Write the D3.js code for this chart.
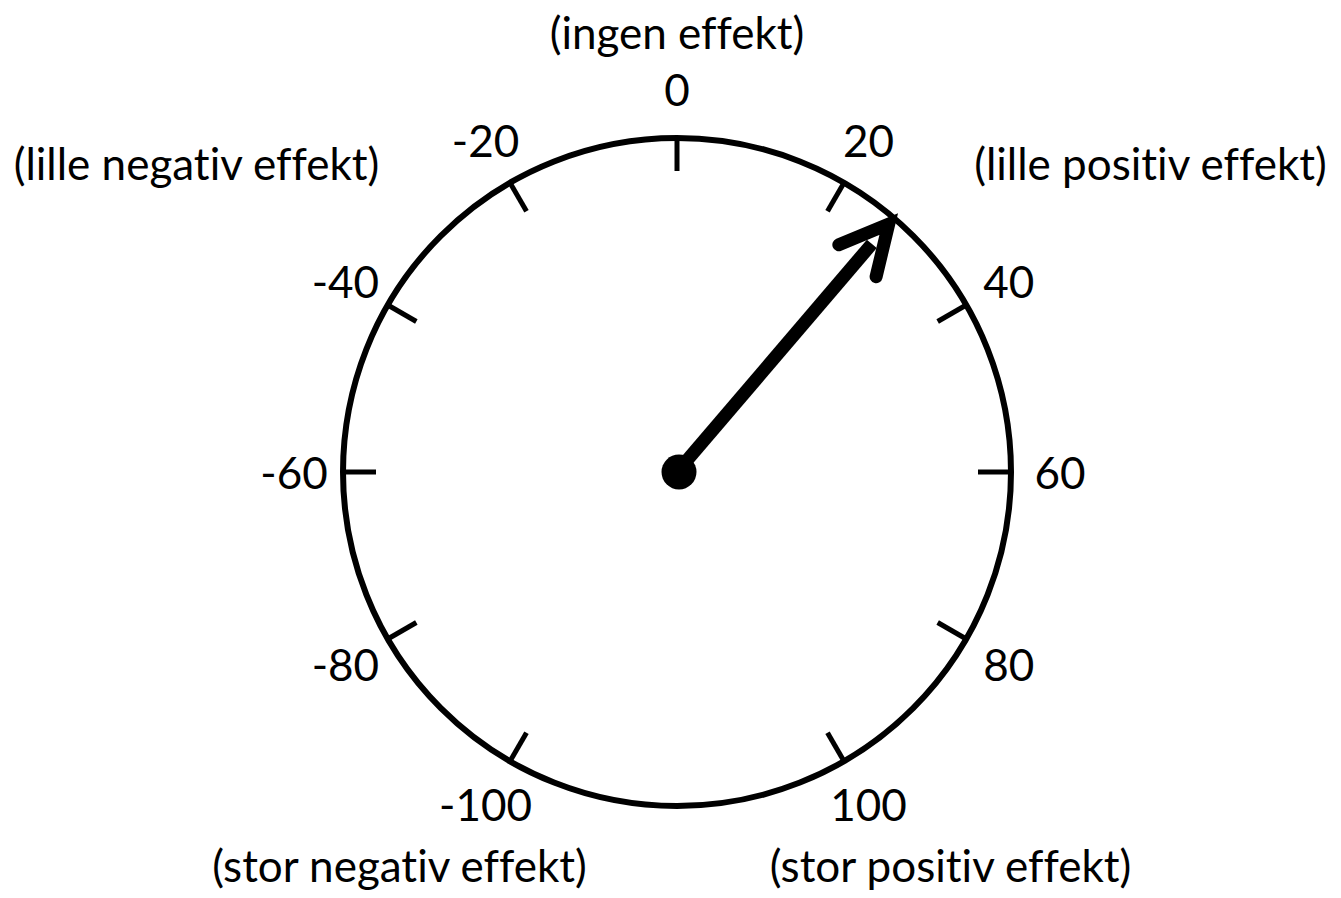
<!DOCTYPE html>
<html>
<head>
<meta charset="utf-8">
<script src="https://cdn.jsdelivr.net/npm/d3@7"></script>
<style>
  body { margin: 0; background: #fff; }
  text { font-family: Lato, "Open Sans", sans-serif; fill: #000; font-variant-ligatures: none; }
</style>
</head>
<body>
<div class="diagram"></div>
<script>
var width = 1341, height = 898;

// data
var tickValues = [-100, -80, -60, -40, -20, 0, 20, 40, 60, 80, 100];
var needleValue = 27;
var effectLabels = ["(stor negativ effekt)", "(lille negativ effekt)", "(ingen effekt)", "(lille positiv effekt)", "(stor positiv effekt)"];
var effectValues = [-100, -20, 0, 20, 100];

var cx = 677, cy = 472, r = 334, labelR = 383;

var svg = d3.select('.diagram')
  .append('svg')
  .attr('width', width)
  .attr('height', height);

var g = svg.append('g')
  .attr('transform', 'translate(' + cx + ',' + cy + ')');

// value -> angle (degrees, 0 = up, clockwise)
var angle = d3.scaleLinear()
  .domain([-100, 100])
  .range([-150, 150]);

function pt(v, rad) {
  var a = angle(v) * Math.PI / 180;
  return [rad * Math.sin(a), -rad * Math.cos(a)];
}

// dial ring
g.append('circle')
  .attr('r', r)
  .attr('fill', 'none')
  .attr('stroke', '#000')
  .attr('stroke-width', 6);

// ticks
g.selectAll('.tick')
  .data(tickValues)
  .enter()
  .append('line')
  .attr('class', 'tick')
  .attr('x1', function(d) { return pt(d, r)[0]; })
  .attr('y1', function(d) { return pt(d, r)[1]; })
  .attr('x2', function(d) { return pt(d, r - 33)[0]; })
  .attr('y2', function(d) { return pt(d, r - 33)[1]; })
  .attr('stroke', '#000')
  .attr('stroke-width', 5);

// tick labels
g.selectAll('.tick-label')
  .data(tickValues)
  .enter()
  .append('text')
  .attr('class', 'tick-label')
  .attr('x', function(d) { return pt(d, labelR)[0]; })
  .attr('y', function(d) { return pt(d, labelR)[1]; })
  .attr('text-anchor', 'middle')
  .attr('dominant-baseline', 'central')
  .style('font-size', '44px')
  .text(function(d) { return d; });

// effect descriptions, offset from their tick label
var effectOffset = { '-100': [-86, 61], '-20': [-289, 23], '0': [0, -57], '20': [282, 23], '100': [82, 61] };
g.selectAll('.effect')
  .data(effectLabels)
  .enter()
  .append('text')
  .attr('class', 'effect')
  .attr('x', function(d, i) { var v = effectValues[i]; return pt(v, labelR)[0] + effectOffset[v][0]; })
  .attr('y', function(d, i) { var v = effectValues[i]; return pt(v, labelR)[1] + effectOffset[v][1]; })
  .attr('text-anchor', 'middle')
  .attr('dominant-baseline', 'central')
  .style('font-size', '44px')
  .text(function(d) { return d; });

// needle
var tip = pt(needleValue, 326);
var shaft = pt(needleValue, 300);
g.append('line')
  .attr('x1', 0).attr('y1', 0)
  .attr('x2', shaft[0]).attr('y2', shaft[1])
  .attr('stroke', '#000')
  .attr('stroke-width', 13);

var a = angle(needleValue) * Math.PI / 180;
var armLen = 54, spread = 27 * Math.PI / 180;
function arm(sign) {
  var b = a + Math.PI + sign * spread;
  return [tip[0] + armLen * Math.sin(b), tip[1] - armLen * Math.cos(b)];
}
g.append('path')
  .attr('d', d3.line()([arm(-1), tip, arm(1)]))
  .attr('fill', 'none')
  .attr('stroke', '#000')
  .attr('stroke-width', 13)
  .attr('stroke-linecap', 'round')
  .attr('stroke-linejoin', 'miter');

g.append('circle')
  .attr('cx', 2)
  .attr('r', 17.5)
  .attr('fill', '#000');
</script>
</body>
</html>
